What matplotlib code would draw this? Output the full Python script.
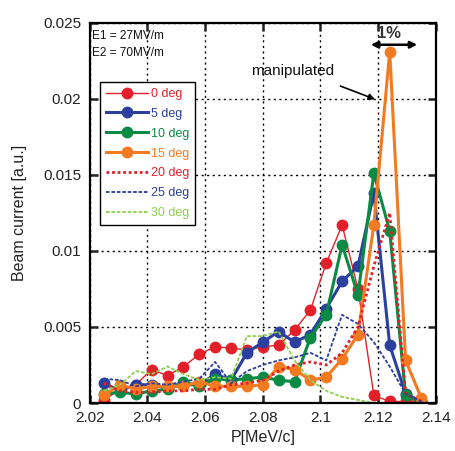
import numpy as np
import matplotlib.pyplot as plt

plt.rcParams['font.family'] = ['Liberation Sans', 'DejaVu Sans']

# momentum grid (MeV/c)
p = [2.025, 2.0305, 2.036, 2.0415, 2.047, 2.0525, 2.058, 2.0635, 2.069, 2.0745,
     2.08, 2.0855, 2.091, 2.0965, 2.102, 2.1075, 2.113, 2.1185, 2.124, 2.1295, 2.135]

deg0 = [0.0002, 0.0009, 0.0012, 0.0022, 0.0018, 0.0024, 0.0032, 0.0037, 0.0036, 0.0035,
        0.0037, 0.0038, 0.0048, 0.0061, 0.0092, 0.0117, 0.0075, 0.0005, 0.0001, 0.0001, 0.0001]
deg5 = [0.0013, 0.0008, 0.0012, 0.0012, 0.0010, 0.0012, 0.0012, 0.0019, 0.0015, 0.0033,
        0.0040, 0.0047, 0.0040, 0.0045, 0.0062, 0.0080, 0.0090, 0.0138, 0.0038, 0.0006, 0.0001]
deg10 = [0.0006, 0.0007, 0.0006, 0.0008, 0.0009, 0.0014, 0.0011, 0.0016, 0.0015, 0.0016,
         0.0017, 0.0015, 0.0014, 0.0043, 0.0058, 0.0104, 0.0071, 0.0151, 0.0113, 0.0005, 0.0]
deg15 = [0.0005, 0.0012, 0.0009, 0.0011, 0.0011, 0.0011, 0.0014, 0.0011, 0.0011, 0.0011,
         0.0012, 0.0024, 0.0022, 0.0015, 0.0017, 0.0029, 0.0045, 0.0117, 0.0231, 0.0028, 0.0003]
deg20 = [0.0013, 0.0008, 0.0007, 0.0007, 0.0008, 0.0008, 0.0009, 0.0009, 0.0012, 0.0013,
         0.0015, 0.0021, 0.0025, 0.0027, 0.0025, 0.0033, 0.0050, 0.0090, 0.0125, 0.0006, 0.0001]
deg25 = [0.0016, 0.0015, 0.0011, 0.0013, 0.0012, 0.0014, 0.0016, 0.0027, 0.0013, 0.0021,
         0.0025, 0.0028, 0.0030, 0.0033, 0.0028, 0.0058, 0.0052, 0.0040, 0.0024, 0.0006, 0.0001]
deg30 = [0.0008, 0.0012, 0.0021, 0.0019, 0.0024, 0.0019, 0.0015, 0.0017, 0.0016, 0.0044,
         0.0044, 0.0047, 0.0028, 0.0015, 0.0008, 0.0004, 0.0002, 0.0, 0.0, 0.0, 0.0]

red = '#e3202a'
blue = '#2b3f9e'
green = '#0b8a43'
orange = '#f47a22'
lgreen = '#8fcf4f'

fig = plt.figure(figsize=(4.55, 4.51), dpi=100)
ax = fig.add_axes([0.197, 0.1064, 0.761, 0.8433])

ax.plot(p, deg0, color=red, lw=1.0, marker='o', ms=7.5, label='0 deg')
ax.plot(p, deg5, color=blue, lw=2.2, marker='o', ms=7.5, label='5 deg')
ax.plot(p, deg10, color=green, lw=2.2, marker='o', ms=7.5, label='10 deg')
ax.plot(p, deg15, color=orange, lw=2.2, marker='o', ms=7.5, label='15 deg')
ax.plot(p, deg20, color=red, lw=2.0, ls=(0, (1, 1)), label='20 deg')
ax.plot(p, deg25, color=blue, lw=1.3, ls=(0, (2, 1)), label='25 deg')
ax.plot(p, deg30, color=lgreen, lw=1.3, ls=(0, (2, 1)), label='30 deg')

ax.set_xlim(2.02, 2.14)
ax.set_ylim(0, 0.025)
ax.set_xticks([2.02, 2.04, 2.06, 2.08, 2.1, 2.12, 2.14])
ax.set_xticklabels(['2.02', '2.04', '2.06', '2.08', '2.1', '2.12', '2.14'])
ax.set_yticks([0, 0.005, 0.01, 0.015, 0.02, 0.025])
ax.set_yticklabels(['0', '0.005', '0.01', '0.015', '0.02', '0.025'])
ax.tick_params(direction='in', length=6, width=1.8, labelsize=11, colors='#222222',
               top=True, right=True, pad=6)
ax.grid(True, color='black', ls=(0, (1.5, 2.5)), lw=1.0)
ax.set_axisbelow(True)
for s in ax.spines.values():
    s.set_linewidth(1.6)

ax.set_xlabel('P[MeV/c]', fontsize=11.5, color='#222222', labelpad=3)
ax.set_ylabel('Beam current [a.u.]', fontsize=11.5, color='#222222', labelpad=12)

ax.text(0.008, 0.982, 'E1 = 27MV/m', transform=ax.transAxes, fontsize=8.5, va='top', color='#111111')
ax.text(0.008, 0.935, 'E2 = 70MV/m', transform=ax.transAxes, fontsize=8.5, va='top', color='#111111')

ax.text(2.0905, 0.0218, 'manipulated', fontsize=11, ha='center', va='center', color='#111111')
ax.annotate('', xy=(2.1198, 0.0199), xytext=(2.1060, 0.0209),
            arrowprops=dict(arrowstyle='-|>', color='black', lw=1.2, mutation_scale=9))
ax.annotate('', xy=(2.1165, 0.02355), xytext=(2.1345, 0.02355),
            arrowprops=dict(arrowstyle='<|-|>', color='black', lw=1.8, mutation_scale=10))
ax.text(2.1237, 0.0238, '1%', fontsize=12, ha='center', va='bottom', fontweight='bold', color='#333333')

leg = ax.legend(loc='upper left', bbox_to_anchor=(0.03, 0.845), fontsize=9,
                frameon=True, fancybox=False, edgecolor='black', framealpha=1,
                borderpad=0.5, handlelength=3.3, labelspacing=0.63, handletextpad=0.25,
                borderaxespad=0)
leg.get_frame().set_linewidth(1.0)
for t, c in zip(leg.get_texts(), [red, blue, green, orange, red, blue, lgreen]):
    t.set_color(c)

fig.savefig('out.png', dpi=100)
